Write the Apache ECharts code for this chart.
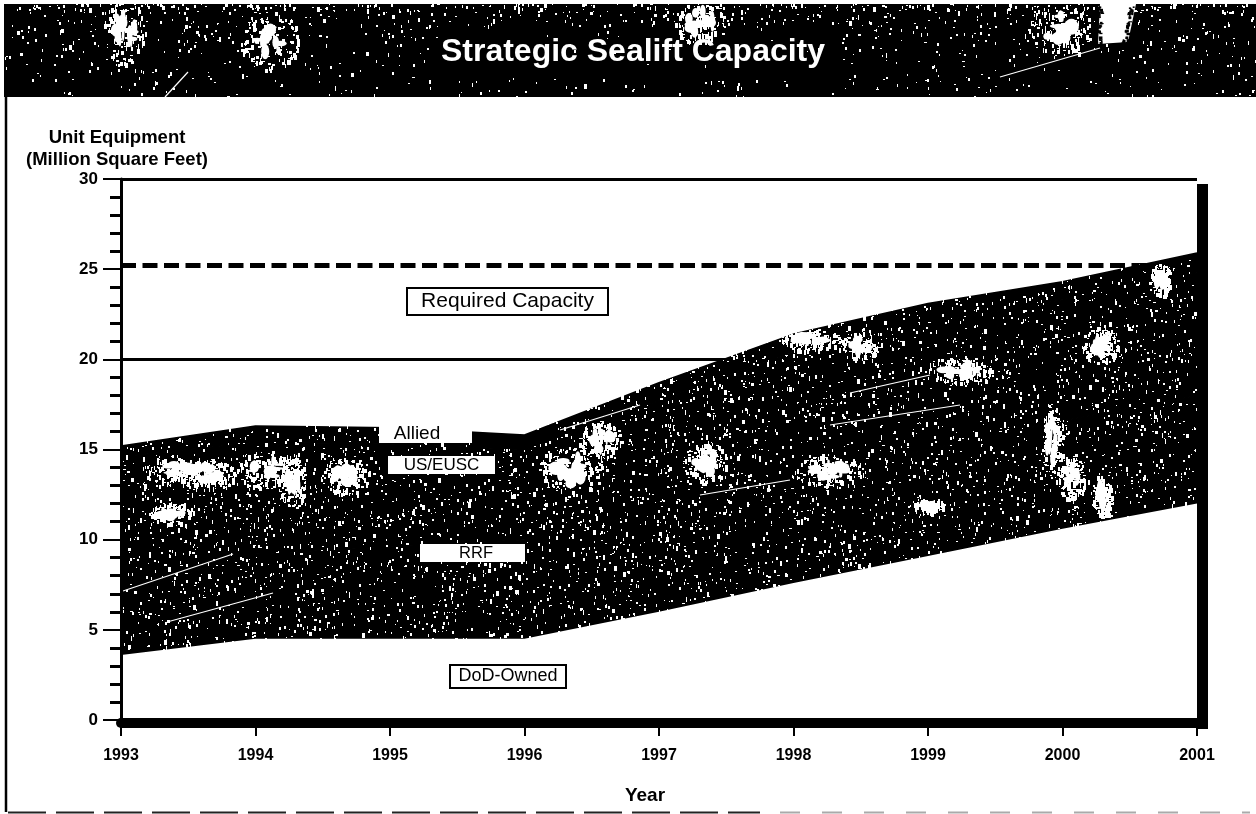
<!DOCTYPE html>
<html>
<head>
<meta charset="utf-8">
<title>Strategic Sealift Capacity</title>
<script src="https://cdn.jsdelivr.net/npm/echarts@6/dist/echarts.min.js"></script>
<style>
  html, body { margin: 0; background: #fff; }
  #main { width: 1256px; height: 814px; }
</style>
</head>
<body>
<div id="main"></div>
<script>
const years = ['1993', '1994', '1995', '1996', '1997', '1998', '1999', '2000', '2001']
const dodOwned = [3.6, 4.5, 4.5, 4.5, 6.0, 7.6, 9.1, 10.6, 12.0]
const rrf = [3.5, 4.7, 5.1, 5.5, 5.6, 5.7, 5.9, 6.0, 6.0]
const usEusc = [7.5, 6.2, 5.7, 5.0, 6.1, 7.1, 7.0, 6.7, 6.8]
const allied = [0.6, 0.9, 0.9, 0.8, 1.0, 1.0, 1.1, 1.0, 1.1]
const required = [25.2, 25.2, 25.2, 25.2, 25.2, 25.2, 25.2, 25.2, 25.2]

const FONT = '"Liberation Sans", Arial, sans-serif'

// the scanned print: black with white specks, fixed seed so every run is the same
function makeGrain() {
  const c = document.createElement('canvas')
  c.width = 1256
  c.height = 814
  const g = c.getContext('2d')
  g.fillStyle = '#000'
  g.fillRect(0, 0, 1256, 814)
  let seed = 20011993
  const rnd = () => {
    seed = (seed * 1664525 + 1013904223) % 4294967296
    return seed / 4294967296
  }
  g.fillStyle = '#fff'
  const speck = (x, y, big) => {
    const w = 1 + Math.floor(rnd() * (big ? 3 : 2))
    const h = 1 + Math.floor(rnd() * (big ? 5 : 3))
    g.fillRect(Math.round(x), Math.round(y), w, h)
  }
  // plot band
  for (let i = 0; i < 8500; i++) speck(rnd() * 1100 + 115, rnd() * 420 + 260, rnd() > 0.82)
  // header strip, busier along the top, quiet behind the title
  for (let i = 0; i < 1150; i++) {
    const x = rnd() * 1256
    const y = 4 + Math.pow(rnd(), 1.8) * 92
    if (x > 430 && x < 840 && y > 28 && y < 78 && rnd() > 0.12) continue
    speck(x, y, rnd() > 0.8)
  }
  const blob = (x, y, rx, ry) => {
    // ragged clump rather than a clean ellipse
    for (let i = 0; i < 16; i++) {
      const a = rnd() * Math.PI * 2
      const r = Math.sqrt(rnd()) * 0.7
      g.beginPath()
      g.ellipse(x + Math.cos(a) * r * rx, y + Math.sin(a) * r * ry, 1 + rnd() * rx * 0.28, 1 + rnd() * ry * 0.38, 0, 0, Math.PI * 2)
      g.fill()
    }
    for (let i = 0; i < 120; i++) {
      const a = rnd() * Math.PI * 2
      const r = Math.sqrt(rnd()) * 1.35
      speck(x + Math.cos(a) * r * rx, y + Math.sin(a) * r * ry, true)
    }
  }
  const patches = [
    [125, 30, 16, 26], [1060, 28, 24, 18], [270, 40, 22, 22], [700, 22, 20, 16],
    [175, 470, 26, 9], [208, 474, 20, 12], [268, 470, 24, 14], [292, 482, 10, 20], [345, 475, 18, 14],
    [172, 513, 16, 8], [570, 470, 24, 20], [600, 440, 16, 14], [705, 462, 16, 16],
    [810, 340, 22, 8], [860, 345, 16, 10], [1100, 345, 14, 14], [1160, 280, 8, 12],
    [960, 370, 26, 10], [830, 470, 26, 12], [930, 505, 12, 5],
    [1052, 440, 8, 28], [1072, 478, 10, 16], [1102, 496, 7, 16]
  ]
  patches.forEach(p => blob(p[0], p[1], p[2], p[3]))
  // the bare patch at the top right of the header, its edge bitten by black
  g.beginPath()
  g.moveTo(1100, 4)
  g.lineTo(1136, 4)
  g.lineTo(1128, 42)
  g.lineTo(1098, 44)
  g.closePath()
  g.fill()
  g.fillStyle = '#000'
  for (let i = 0; i < 40; i++) {
    const t = rnd() * 38
    g.fillRect(1096 + rnd() * 5, 5 + t, 1 + rnd() * 3, 1 + rnd() * 2)
    g.fillRect(1134 - t * 0.2 - rnd() * 5, 5 + t, 1 + rnd() * 3, 1 + rnd() * 2)
  }
  g.fillStyle = '#fff'
  // scratches
  g.strokeStyle = '#fff'
  g.lineWidth = 1.2
  const scratches = [
    [165, 97, 188, 72], [1000, 77, 1100, 48], [123, 591, 233, 554], [167, 622, 273, 593],
    [850, 393, 930, 375], [830, 425, 960, 405], [560, 430, 640, 405], [700, 495, 790, 480]
  ]
  scratches.forEach(s => {
    g.beginPath()
    g.moveTo(s[0], s[1])
    g.lineTo(s[2], s[3])
    g.stroke()
  })
  // solid stretch of Allied by the 1996 kink
  g.fillStyle = '#000'
  g.fillRect(470, 425, 60, 24)
  return c
}

const grain = { image: makeGrain(), repeat: 'repeat' }

function bandSeries(name, data) {
  return {
    name,
    type: 'line',
    stack: 'lift',
    data,
    z: 3,
    symbol: 'none',
    silent: true,
    // same grain on the stroke so the stacked areas show no seam
    lineStyle: { width: 1.5, color: grain },
    areaStyle: { color: grain, opacity: 1 }
  }
}

function boxedLabel(text, x, y, w, h, opts) {
  const o = opts || {}
  return [
    {
      type: 'rect',
      z: 20,
      silent: true,
      shape: { x, y, width: w, height: h },
      style: { fill: '#fff', stroke: o.border ? '#000' : null, lineWidth: o.border ? 2 : 0 }
    },
    {
      type: 'text',
      z: 21,
      silent: true,
      style: {
        text,
        x: o.textX || x + w / 2,
        y: y + h / 2,
        align: 'center',
        verticalAlign: 'middle',
        fill: '#000',
        font: (o.size || 17) + 'px ' + FONT
      }
    }
  ]
}

const chart = echarts.init(document.getElementById('main'), null, { renderer: 'canvas' })

chart.setOption({
  animation: false,
  backgroundColor: '#fff',
  title: {
    text: 'Strategic Sealift Capacity',
    left: 628,
    top: 47,
    textAlign: 'center',
    textVerticalAlign: 'middle',
    z: 30,
    textStyle: { color: '#fff', fontFamily: FONT, fontWeight: 'bold', fontSize: 32 }
  },
  grid: { left: 121, right: 59, top: 179, bottom: 94 },
  xAxis: {
    type: 'category',
    data: years,
    boundaryGap: false,
    offset: 3,
    name: 'Year',
    nameLocation: 'middle',
    nameGap: 63,
    nameTextStyle: { color: '#000', fontFamily: FONT, fontWeight: 'bold', fontSize: 19, padding: [0, 28, 0, 0] },
    axisLine: { onZero: false, lineStyle: { color: '#000', width: 10 } },
    axisTick: { alignWithLabel: true, length: 13, lineStyle: { color: '#000', width: 2 } },
    axisLabel: { color: '#000', fontFamily: FONT, fontWeight: 'bold', fontSize: 16, margin: 25, showMinLabel: true, showMaxLabel: true, interval: 0 },
    splitLine: { show: false },
    z: 6
  },
  yAxis: {
    type: 'value',
    min: 0,
    max: 30,
    interval: 5,
    name: 'Unit Equipment\n(Million Square Feet)',
    nameLocation: 'end',
    nameGap: 6,
    nameTextStyle: { color: '#000', fontFamily: FONT, fontWeight: 'bold', fontSize: 18.5, lineHeight: 22, align: 'center', padding: [0, 8, 0, 0] },
    axisLine: { show: true, lineStyle: { color: '#000', width: 3 } },
    axisTick: { show: true, length: 18, lineStyle: { color: '#000', width: 2 } },
    minorTick: { show: true, splitNumber: 5, length: 11, lineStyle: { color: '#000', width: 3 } },
    axisLabel: { color: '#000', fontFamily: FONT, fontWeight: 'bold', fontSize: 17, margin: 23 },
    splitLine: { show: false },
    z: 6
  },
  series: [
    {
      name: 'Required Capacity',
      type: 'line',
      data: required,
      z: 1,
      symbol: 'none',
      silent: true,
      lineStyle: { color: '#000', width: 5, type: [15, 6.5] },
      markLine: {
        silent: true,
        symbol: 'none',
        z: 1,
        label: { show: false },
        lineStyle: { color: '#000', width: 3, type: 'solid' },
        data: [{ yAxis: 20 }, { yAxis: 30 }]
      }
    },
    { name: 'DoD-Owned', type: 'line', stack: 'lift', data: dodOwned, z: 2, symbol: 'none', silent: true, lineStyle: { width: 0 } },
    bandSeries('RRF', rrf),
    bandSeries('US/EUSC', usEusc),
    bandSeries('Allied', allied)
  ],
  graphic: [
    // header strip
    { type: 'rect', z: -1, silent: true, shape: { x: 4, y: 4, width: 1252, height: 93 }, style: { fill: grain } },
    // page rule down the left and the broken rule along the foot
    { type: 'line', z: 1, silent: true, shape: { x1: 6, y1: 97, x2: 6, y2: 812 }, style: { stroke: '#000', lineWidth: 2.5 } },
    { type: 'line', z: 1, silent: true, shape: { x1: 8, y1: 812.5, x2: 760, y2: 812.5 }, style: { stroke: '#222', lineWidth: 2, lineDash: [38, 10] } },
    { type: 'line', z: 1, silent: true, shape: { x1: 780, y1: 812.5, x2: 1250, y2: 812.5 }, style: { stroke: '#aaa', lineWidth: 2, lineDash: [20, 22] } },
    // heavy right edge of the plot
    { type: 'rect', z: 5, silent: true, shape: { x: 1197, y: 184, width: 11, height: 545 }, style: { fill: '#000' } },
    // series labels
    ...boxedLabel('Required Capacity', 407, 288, 201, 27, { border: true, size: 21 }),
    ...boxedLabel('Allied', 379, 425, 93, 18, { textX: 417, size: 19 }),
    ...boxedLabel('US/EUSC', 388, 456, 107, 18),
    ...boxedLabel('RRF', 420, 544, 105, 18, { textX: 476, size: 16.5 }),
    ...boxedLabel('DoD-Owned', 450, 665, 116, 23, { border: true, size: 18 })
  ]
})
</script>
</body>
</html>
